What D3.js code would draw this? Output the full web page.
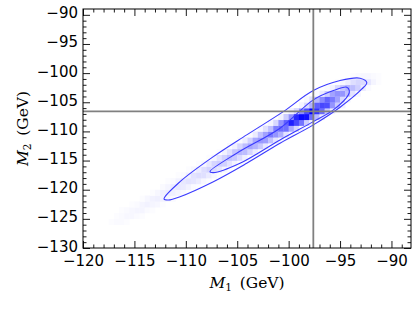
<!DOCTYPE html>
<html><head><meta charset="utf-8">
<script src="https://cdn.jsdelivr.net/npm/d3@7"></script>
<style>
html,body{margin:0;padding:0;background:#fff;}
svg{display:block;}
</style></head>
<body>
<script>
// ---- data ----
const xTicks = [-120,-115,-110,-105,-100,-95,-90];
const yTicks = [-130,-125,-120,-115,-110,-105,-100,-95,-90];
const xDomain = [-120,-88.1];
const yDomain = [-130,-89];
const crossX = -97.6;
const crossY = -106.55;
// 2D histogram: row lower edge (y), first-cell lower edge (x), cell intensities (0-100); cells 0.5 wide, 1 tall
const binW = 0.5, binH = 1;
const rowY  = [-126,-125,-124,-123,-122,-121,-120,-119,-118,-117,-116,-115,-114,-113,-112,-111,-110,-109,-108,-107,-106,-105,-104,-103,-102,-101];
const rowX0 = [-119,-118,-117,-116,-115,-114,-113,-112,-111,-110,-109,-108,-107,-106,-105,-104,-103,-102,-101,-100,-99,-98.5,-97.5,-96.5,-95.5,-94.5];
const rowVals = [
 [0,0,0,1,2,2,1,0,0],
 [0,0,1,2,3,3,2,1,0],
 [0,1,2,3,4,4,2,1,0],
 [0,1,2,4,5,4,3,1,0],
 [0,1,3,5,6,5,4,2,0],
 [0,1,3,6,7,6,4,2,0],
 [0,2,4,7,9,8,5,2,1],
 [1,2,5,9,11,10,7,3,1],
 [1,2,6,11,13,12,8,3,1],
 [1,3,7,13,17,14,10,4,1],
 [1,3,9,16,19,18,11,5,1],
 [1,4,11,18,24,21,14,6,2],
 [1,5,12,23,28,26,16,7,2],
 [2,6,16,26,35,30,21,9,2],
 [2,7,18,34,40,38,24,10,3],
 [2,8,24,37,51,42,31,11,3],
 [3,12,25,50,57,56,33,16,4],
 [4,15,42,62,88,72,54,19,6],
 [5,20,43,84,96,93,57,27,7],
 [5,15,44,70,100,80,58,21,6],
 [4,15,31,63,72,70,42,20,5],
 [3,11,28,46,61,52,37,14,4],
 [2,8,20,36,43,41,25,11,3],
 [2,5,15,23,31,26,19,8,2],
 [1,3,7,13,16,14,10,4,1],
 [0,1,2,3,3,2,1,0,0]
];
// contours (data coords)
const outerContour = [
 [-112.12,-121.59],[-110.56,-118.62],[-107.32,-114.33],[-104.08,-110.60],[-100.52,-106.60],
 [-97.60,-102.99],[-95.0,-101.28],[-93.05,-100.87],[-92.4,-101.62],[-92.9,-102.76],
 [-95.0,-105.85],[-97.60,-108.88],[-100.84,-112.03],[-104.08,-115.46],[-107.32,-118.62],
 [-110.56,-121.19],[-111.70,-121.76]
];
const innerContour = [
 [-107.65,-116.90],[-105.05,-113.74],[-100.84,-109.45],[-97.60,-104.59],[-95.65,-102.99],
 [-94.35,-102.41],[-94.10,-102.99],[-94.19,-103.73],[-95.65,-106.31],[-97.60,-108.32],
 [-100.84,-111.46],[-104.73,-115.46],[-107.32,-117.07]
];

// ---- chart ----
const W = 416, H = 312;
const L = 83, R = 411, T = 9, B = 248;
const svg = d3.select("body").append("svg").attr("width", W).attr("height", H);
const x = d3.scaleLinear().domain(xDomain).range([L, R]);
const y = d3.scaleLinear().domain(yDomain).range([B, T]);
const color = d3.interpolateRgb("#ffffff", "#0000ff");

svg.append("defs").append("clipPath").attr("id","clip")
  .append("rect").attr("x",L).attr("y",T).attr("width",R-L).attr("height",B-T);
const plot = svg.append("g").attr("clip-path","url(#clip)");

const cells = [];
rowY.forEach((yy, i) => {
  rowVals[i].forEach((v, j) => {
    if (v > 0) cells.push({x: rowX0[i] + j*binW, y: yy, v});
  });
});
plot.selectAll("rect.cell").data(cells).join("rect").attr("class","cell")
  .attr("x", d => x(d.x))
  .attr("y", d => y(d.y + binH))
  .attr("width", d => x(d.x + binW) - x(d.x) + 0.3)
  .attr("height", d => y(d.y) - y(d.y + binH) + 0.3)
  .attr("fill", d => color(d.v/100));

const line = d3.line().x(d => x(d[0])).y(d => y(d[1])).curve(d3.curveCatmullRomClosed.alpha(0.5));
[outerContour, innerContour].forEach(c => {
  plot.append("path").attr("d", line(c)).attr("fill","none")
    .attr("stroke","#3a3aff").attr("stroke-width",1.1);
});

// crosshair
plot.append("line").attr("x1", x(crossX)).attr("x2", x(crossX)).attr("y1", T).attr("y2", B)
  .attr("stroke","#808080").attr("stroke-width",1.8);
plot.append("line").attr("x1", L).attr("x2", R).attr("y1", y(crossY)).attr("y2", y(crossY))
  .attr("stroke","#808080").attr("stroke-width",1.8);

// axes
const font = "DejaVu Sans";
const majorLen = 7, minorLen = 3.5;
const xMinor = d3.range(-120, -88, 1).filter(v => v % 5 !== 0);
const yMinor = d3.range(-130, -89, 1).filter(v => v % 5 !== 0);

function styleAxis(g){
  g.select(".domain").remove();
  g.selectAll(".tick line").attr("stroke","#000").attr("stroke-width",0.9);
  g.selectAll("text").attr("font-family", font).attr("font-size","15px").attr("fill","#000");
}
// bottom
svg.append("g").attr("transform",`translate(0,${B})`)
  .call(d3.axisBottom(x).tickValues(xTicks).tickSize(-majorLen).tickPadding(7))
  .call(styleAxis);
svg.append("g").attr("transform",`translate(0,${B})`)
  .call(d3.axisBottom(x).tickValues(xMinor).tickSize(-minorLen).tickFormat(""))
  .call(styleAxis);
// top
svg.append("g").attr("transform",`translate(0,${T})`)
  .call(d3.axisTop(x).tickValues(xTicks).tickSize(-majorLen).tickFormat(""))
  .call(styleAxis);
svg.append("g").attr("transform",`translate(0,${T})`)
  .call(d3.axisTop(x).tickValues(xMinor).tickSize(-minorLen).tickFormat(""))
  .call(styleAxis);
// left
const yAxisG = svg.append("g").attr("transform",`translate(${L},0)`)
  .call(d3.axisLeft(y).tickValues(yTicks).tickSize(-majorLen).tickPadding(5))
  .call(styleAxis);
yAxisG.selectAll("text").attr("dy","0.2em");
svg.append("g").attr("transform",`translate(${L},0)`)
  .call(d3.axisLeft(y).tickValues(yMinor).tickSize(-minorLen).tickFormat(""))
  .call(styleAxis);
// right
svg.append("g").attr("transform",`translate(${R},0)`)
  .call(d3.axisRight(y).tickValues(yTicks).tickSize(-majorLen).tickFormat(""))
  .call(styleAxis);
svg.append("g").attr("transform",`translate(${R},0)`)
  .call(d3.axisRight(y).tickValues(yMinor).tickSize(-minorLen).tickFormat(""))
  .call(styleAxis);

// frame
svg.append("rect").attr("x",L).attr("y",T).attr("width",R-L).attr("height",B-T)
  .attr("fill","none").attr("stroke","#000").attr("stroke-width",1);

// axis labels
const serif = "DejaVu Serif";
const xl = svg.append("text").attr("x",(L+R)/2).attr("y",288).attr("text-anchor","middle")
  .attr("font-family",serif).attr("font-size","15.5px").attr("fill","#000");
xl.append("tspan").attr("font-style","italic").text("M");
xl.append("tspan").attr("font-size","10.5px").attr("dy","3").text("1");
xl.append("tspan").attr("dy","-3").text("\u2002(GeV)");

const yl = svg.append("text").attr("transform",`translate(28,${(T+B)/2}) rotate(-90)`)
  .attr("text-anchor","middle")
  .attr("font-family",serif).attr("font-size","15.5px").attr("fill","#000");
yl.append("tspan").attr("font-style","italic").text("M");
yl.append("tspan").attr("font-size","10.5px").attr("dy","3").text("2");
yl.append("tspan").attr("dy","-3").text("\u2002(GeV)");
</script>
</body></html>
